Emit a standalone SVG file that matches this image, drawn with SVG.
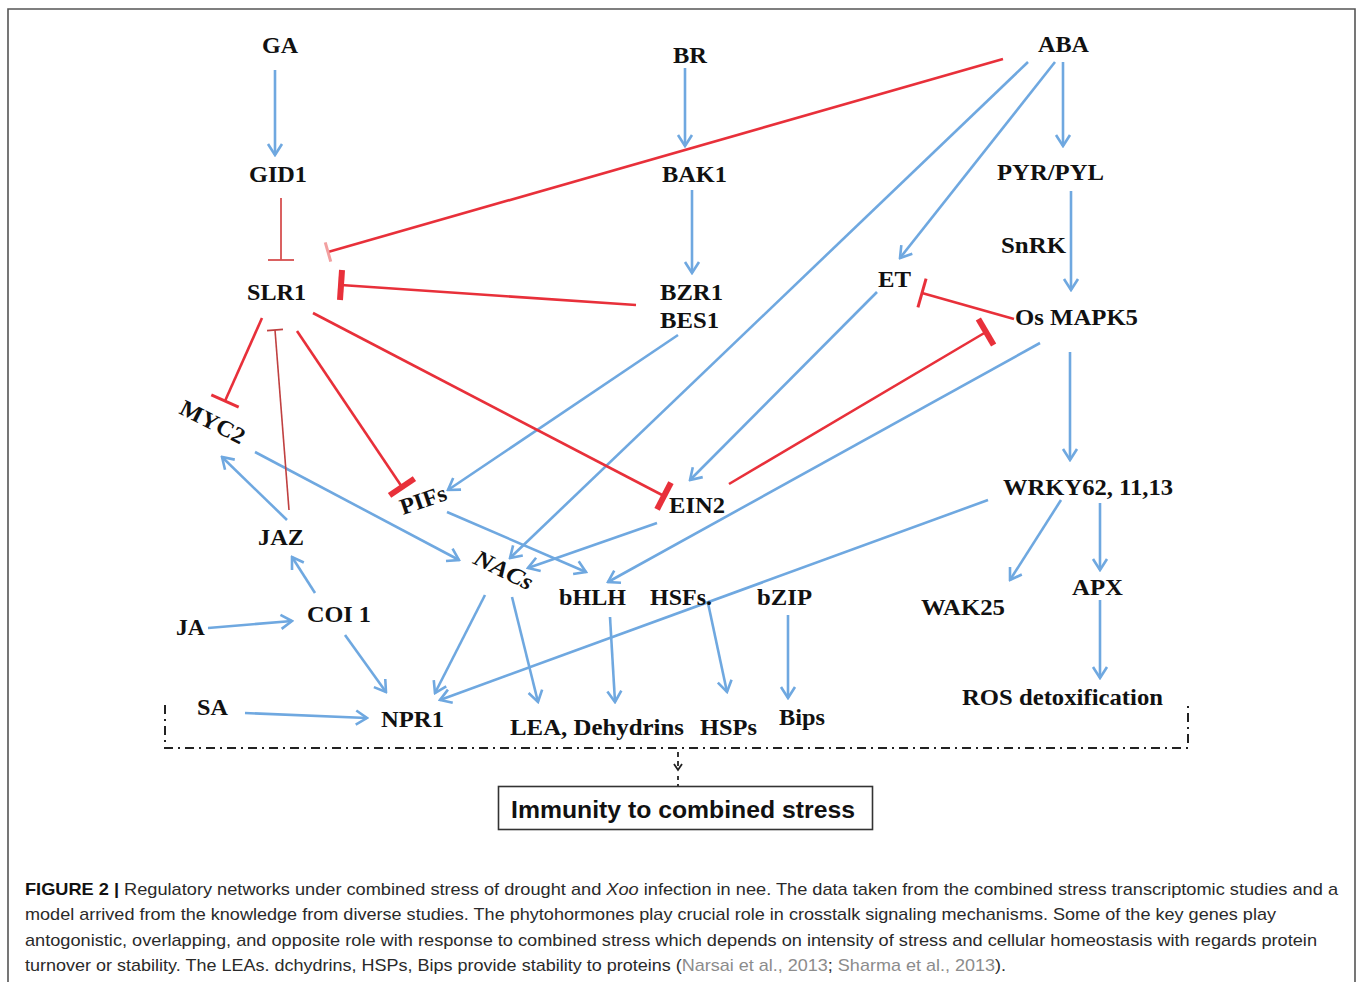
<svg xmlns="http://www.w3.org/2000/svg" width="1358" height="982" viewBox="0 0 1358 982">
<style>
.n{font-family:"Liberation Serif","Times New Roman",serif;font-weight:bold;font-size:23px;fill:#111}
.b{fill:none;stroke:#6fa8e0;stroke-width:2.6;marker-end:url(#arr)}
.r{fill:none;stroke:#e8303a;stroke-width:2.6}
.cap{font-family:"Liberation Sans",Arial,sans-serif;font-size:17px;fill:#2a2a2a}
.cit{fill:#8c8c8c}
.dd{fill:none;stroke:#222;stroke-width:2;stroke-dasharray:9 5 2 5}
</style>
<defs>
<marker id="arr" viewBox="-14 -10 16 20" markerWidth="16" markerHeight="20" refX="0" refY="0" orient="auto" markerUnits="userSpaceOnUse">
<path d="M-11,-7 L0,0 L-11,7" fill="none" stroke="#6fa8e0" stroke-width="2.6"/>
</marker>
<marker id="barT" viewBox="-4 -17 8 34" markerWidth="8" markerHeight="34" refX="0" refY="0" orient="auto" markerUnits="userSpaceOnUse">
<path d="M0,-15V15" stroke="#e8303a" stroke-width="6"/>
</marker>
<marker id="barM" viewBox="-3 -17 6 34" markerWidth="6" markerHeight="34" refX="0" refY="0" orient="auto" markerUnits="userSpaceOnUse">
<path d="M0,-15V15" stroke="#e8303a" stroke-width="3"/>
</marker>
<marker id="barS" viewBox="-2 -15 4 30" markerWidth="4" markerHeight="30" refX="0" refY="0" orient="auto" markerUnits="userSpaceOnUse">
<path d="M0,-13V13" stroke="#d65050" stroke-width="1.8"/>
</marker>
<marker id="barJ" viewBox="-2 -11 4 22" markerWidth="4" markerHeight="22" refX="0" refY="0" orient="auto" markerUnits="userSpaceOnUse">
<path d="M0,-8V8" stroke="#c04040" stroke-width="1.6"/>
</marker>
<marker id="barA" viewBox="-3 -12 6 24" markerWidth="6" markerHeight="24" refX="0" refY="0" orient="auto" markerUnits="userSpaceOnUse">
<path d="M0,-10V10" stroke="#f2a0a0" stroke-width="3"/>
</marker>
<marker id="vsm" viewBox="-8 -6 10 12" markerWidth="10" markerHeight="12" refX="0" refY="0" orient="auto" markerUnits="userSpaceOnUse">
<path d="M-6,-4 L0,0 L-6,4" fill="none" stroke="#222" stroke-width="1.8"/>
</marker>
</defs>
<rect x="0" y="0" width="1358" height="982" fill="#fff"/>
<path d="M8,1000 V9 H1355 V1000" fill="none" stroke="#555" stroke-width="1.6"/>

<g id="connectors">
<path class="b" d="M275,70 L275,155"/>
<path class="b" d="M685,68 L685,146"/>
<path class="b" d="M692,190 L692,273"/>
<path class="b" d="M1063,62 L1063,146"/>
<path class="b" d="M1071,191 L1071,290"/>
<path class="b" d="M1055,62 L900,258"/>
<path class="b" d="M1028,62 L510,558"/>
<path class="b" d="M877,292 L690,480"/>
<path class="b" d="M678,335 L448,490"/>
<path class="b" d="M1040,343 L608,582"/>
<path class="b" d="M1070,352 L1070,460"/>
<path class="b" d="M1061,500 L1010,580"/>
<path class="b" d="M1100,503 L1100,570"/>
<path class="b" d="M1100,600 L1100,678"/>
<path class="b" d="M988,500 L440,700"/>
<path class="b" d="M485,595 L435,693"/>
<path class="b" d="M512,597 L538,702"/>
<path class="b" d="M610,617 L615,702"/>
<path class="b" d="M708,603 L727,692"/>
<path class="b" d="M788,615 L788,698"/>
<path class="b" d="M657,523 L528,568"/>
<path class="b" d="M447,512 L586,572"/>
<path class="b" d="M255,452 L459,560"/>
<path class="b" d="M287,520 L222,457"/>
<path class="b" d="M315,593 L292,557"/>
<path class="b" d="M208,628 L292,621"/>
<path class="b" d="M345,635 L386,692"/>
<path class="b" d="M245,713 L367,718"/>

<path d="M281,198 L281,260" fill="none" stroke="#d65050" stroke-width="1.8" marker-end="url(#barS)"/>
<path class="r" d="M1003,59 L328,252" stroke-width="2.2" marker-end="url(#barA)"/>
<path class="r" d="M636,305 L341,285" stroke-width="3" marker-end="url(#barT)"/>
<path class="r" d="M262,318 L225,401" marker-end="url(#barM)"/>
<path d="M289,510 L275,330" fill="none" stroke="#c04040" stroke-width="1.6" marker-end="url(#barJ)"/>
<path class="r" d="M297,331 L402,487" marker-end="url(#barT)"/>
<path class="r" d="M313,313 L664,496" stroke-width="3" marker-end="url(#barT)"/>
<path class="r" d="M729,484 L986,332" stroke-width="3" marker-end="url(#barT)"/>
<path class="r" d="M1014,319 L922,293" marker-end="url(#barM)"/>

<path class="dd" d="M165,705 V748 H1188 V705"/>
<path d="M678,752 V770" fill="none" stroke="#222" stroke-width="1.8" stroke-dasharray="5 4" marker-end="url(#vsm)"/>
<path d="M678,776 V788" fill="none" stroke="#222" stroke-width="1.8" stroke-dasharray="4 4"/>
</g>

<g id="GA"><text class="n" x="262" y="53" textLength="36" lengthAdjust="spacingAndGlyphs">GA</text></g>
<g id="BR"><text class="n" x="673" y="63" textLength="34" lengthAdjust="spacingAndGlyphs">BR</text></g>
<g id="ABA"><text class="n" x="1038" y="52" textLength="51" lengthAdjust="spacingAndGlyphs">ABA</text></g>
<g id="GID1"><text class="n" x="249" y="182" textLength="58" lengthAdjust="spacingAndGlyphs">GID1</text></g>
<g id="BAK1"><text class="n" x="662" y="182" textLength="65" lengthAdjust="spacingAndGlyphs">BAK1</text></g>
<g id="PYRPYL"><text class="n" x="997" y="180" textLength="107" lengthAdjust="spacingAndGlyphs">PYR/PYL</text></g>
<g id="SnRK"><text class="n" x="1001" y="253" textLength="65" lengthAdjust="spacingAndGlyphs">SnRK</text></g>
<g id="SLR1"><text class="n" x="247" y="300" textLength="59" lengthAdjust="spacingAndGlyphs">SLR1</text></g>
<g id="BZR1"><text class="n" x="660" y="300" textLength="63" lengthAdjust="spacingAndGlyphs">BZR1</text><text class="n" x="660" y="328" textLength="59" lengthAdjust="spacingAndGlyphs">BES1</text></g>
<g id="ET"><text class="n" x="878" y="287" textLength="33" lengthAdjust="spacingAndGlyphs">ET</text></g>
<g id="OsMAPK5"><text class="n" x="1015" y="325" textLength="123" lengthAdjust="spacingAndGlyphs">Os MAPK5</text></g>
<g id="MYC2"><text class="n" transform="translate(178,413) rotate(27)" textLength="70" lengthAdjust="spacingAndGlyphs">MYC2</text></g>
<g id="PIFs"><text class="n" transform="translate(403,515) rotate(-19)" textLength="48" lengthAdjust="spacingAndGlyphs">PIFs</text></g>
<g id="EIN2"><text class="n" x="669" y="513" textLength="56" lengthAdjust="spacingAndGlyphs">EIN2</text></g>
<g id="NACs"><text class="n" font-style="italic" transform="translate(472,563) rotate(26)" textLength="63" lengthAdjust="spacingAndGlyphs">NACs</text></g>
<g id="JAZ"><text class="n" x="258" y="545" textLength="46" lengthAdjust="spacingAndGlyphs">JAZ</text></g>
<g id="WRKY"><text class="n" x="1003" y="495" textLength="170" lengthAdjust="spacingAndGlyphs">WRKY62, 11,13</text></g>
<g id="bHLH"><text class="n" x="559" y="605" textLength="67" lengthAdjust="spacingAndGlyphs">bHLH</text></g>
<g id="HSFs"><text class="n" x="650" y="605" textLength="62" lengthAdjust="spacingAndGlyphs">HSFs.</text></g>
<g id="bZIP"><text class="n" x="757" y="605" textLength="55" lengthAdjust="spacingAndGlyphs">bZIP</text></g>
<g id="WAK25"><text class="n" x="921" y="615" textLength="84" lengthAdjust="spacingAndGlyphs">WAK25</text></g>
<g id="APX"><text class="n" x="1072" y="595" textLength="51" lengthAdjust="spacingAndGlyphs">APX</text></g>
<g id="JA"><text class="n" x="176" y="635" textLength="29" lengthAdjust="spacingAndGlyphs">JA</text></g>
<g id="COI1"><text class="n" x="307" y="622" textLength="64" lengthAdjust="spacingAndGlyphs">COI 1</text></g>
<g id="SA"><text class="n" x="197" y="715" textLength="31" lengthAdjust="spacingAndGlyphs">SA</text></g>
<g id="NPR1"><text class="n" x="381" y="727" textLength="63" lengthAdjust="spacingAndGlyphs">NPR1</text></g>
<g id="LEA"><text class="n" x="510" y="735" textLength="174" lengthAdjust="spacingAndGlyphs">LEA, Dehydrins</text></g>
<g id="HSPs"><text class="n" x="700" y="735" textLength="57" lengthAdjust="spacingAndGlyphs">HSPs</text></g>
<g id="Bips"><text class="n" x="779" y="725" textLength="46" lengthAdjust="spacingAndGlyphs">Bips</text></g>
<g id="ROS"><text class="n" x="962" y="705" textLength="201" lengthAdjust="spacingAndGlyphs">ROS detoxification</text></g>
<g id="Immunity">
<rect x="498.5" y="786.5" width="374" height="43" fill="#fff" stroke="#333" stroke-width="1.6"/>
<text x="511" y="818" font-family="'Liberation Sans',Arial,sans-serif" font-weight="bold" font-size="23" fill="#111" textLength="344" lengthAdjust="spacingAndGlyphs">Immunity to combined stress</text>
</g>

<g id="caption">
<text class="cap" x="25" y="895" textLength="1313" lengthAdjust="spacingAndGlyphs"><tspan font-weight="bold" fill="#111">FIGURE 2 |</tspan> Regulatory networks under combined stress of drought and <tspan font-style="italic">Xoo</tspan> infection in nee. The data taken from the combined stress transcriptomic studies and a</text>
<text class="cap" x="25" y="920" textLength="1251" lengthAdjust="spacingAndGlyphs">model arrived from the knowledge from diverse studies. The phytohormones play crucial role in crosstalk signaling mechanisms. Some of the key genes play</text>
<text class="cap" x="25" y="946" textLength="1292" lengthAdjust="spacingAndGlyphs">antogonistic, overlapping, and opposite role with response to combined stress which depends on intensity of stress and cellular homeostasis with regards protein</text>
<text class="cap" x="25" y="971" textLength="981" lengthAdjust="spacingAndGlyphs">turnover or stability. The LEAs. dchydrins, HSPs, Bips provide stability to proteins (<tspan class="cit">Narsai et al., 2013</tspan>; <tspan class="cit">Sharma et al., 2013</tspan>).</text>
</g>
</svg>
